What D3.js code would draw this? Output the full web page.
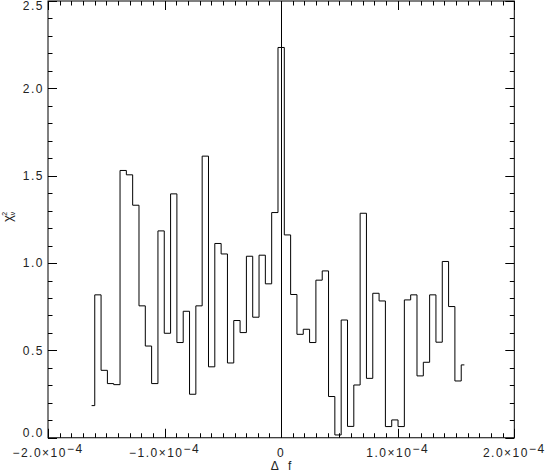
<!DOCTYPE html>
<html>
<head>
<meta charset="utf-8">
<script src="https://cdn.jsdelivr.net/npm/d3@7"></script>
<style>
  html, body { margin: 0; padding: 0; background: #fff; }
  svg { display: block; }
  text { font-family: "Liberation Sans", Arial, sans-serif; fill: #222; }
</style>
</head>
<body>
<svg id="chart" width="547" height="474"></svg>
<script>
// Bin centres, Δf in units of 1e-6
const freqOffsets = [
  -162.6, -157.18, -151.76, -146.34, -140.92, -135.5, -130.08, -124.66, -119.24, -113.82,
  -108.4, -102.98, -97.56, -92.14, -86.72, -81.3, -75.88, -70.46, -65.04, -59.62,
  -54.2, -48.78, -43.36, -37.94, -32.52, -27.1, -21.68, -16.26, -10.84, -5.42,
  0, 5.42, 10.84, 16.26, 21.68, 27.1, 32.52, 37.94, 43.36, 48.78,
  54.2, 59.62, 65.04, 70.46, 75.88, 81.3, 86.72, 92.14, 97.56, 102.98,
  108.4, 113.82, 119.24, 124.66, 130.08, 135.5, 140.92, 146.34, 151.76, 157.18
];
// Reduced chi-square per bin
const chi2Values = [
  0.184, 0.818, 0.386, 0.310, 0.304, 1.530, 1.505, 1.331, 0.755, 0.525,
  0.310, 1.184, 0.598, 1.396, 0.545, 0.724, 0.249, 0.755, 1.612, 0.406,
  1.112, 1.052, 0.428, 0.671, 0.602, 1.039, 0.690, 1.045, 0.881, 1.289,
  2.234, 1.161, 0.820, 0.592, 0.621, 0.545, 0.902, 0.955, 0.236, 0.016,
  0.674, 0.065, 0.302, 1.285, 0.340, 0.827, 0.783, 0.064, 0.102, 0.064,
  0.789, 0.818, 0.354, 0.432, 0.818, 0.547, 1.009, 0.751, 0.325, 0.417
];
const xMajorTicks = [-2e-4, -1e-4, 0, 1e-4, 2e-4];
const xTickMantissa = ["\u22122.0\u00d710", "\u22121.0\u00d710", "0", "1.0\u00d710", "2.0\u00d710"];
const xTickExponent = ["\u22124", "\u22124", "", "\u22124", "\u22124"];
const yMajorTicks = [0, 0.5, 1.0, 1.5, 2.0, 2.5];
const yTickLabels = ["0.0", "0.5", "1.0", "1.5", "2.0", "2.5"];

const svg = d3.select("#chart");
const L = 48, R = 514.3, T = 1, B = 437.75;
const x = d3.scaleLinear().domain([-2e-4, 2e-4]).range([L, R]);
const y = d3.scaleLinear().domain([0, 2.5]).range([B, T]);

const g = svg.append("g").attr("stroke", "#000").attr("stroke-width", 1).attr("fill", "none");

// frame
g.append("rect").attr("x", L).attr("y", T).attr("width", R - L).attr("height", B - T);

// x minor & major ticks (bottom and top)
const xMinor = x.ticks(40);
xMinor.forEach(v => {
  const isMajor = xMajorTicks.some(m => Math.abs(m - v) < 1e-9);
  const len = isMajor ? 9 : 4.5;
  const px = Math.round(x(v)) + 0.5;
  g.append("line").attr("x1", px).attr("x2", px).attr("y1", B).attr("y2", B - len);
  g.append("line").attr("x1", px).attr("x2", px).attr("y1", T).attr("y2", T + len);
});
// y minor & major ticks (left and right)
const yMinor = y.ticks(25);
yMinor.forEach(v => {
  const isMajor = yMajorTicks.some(m => Math.abs(m - v) < 1e-9);
  const len = isMajor ? 9 : 4.5;
  const py = Math.round(y(v)) + 0.5;
  g.append("line").attr("x1", L).attr("x2", L + len).attr("y1", py).attr("y2", py);
  g.append("line").attr("x1", R).attr("x2", R - len).attr("y1", py).attr("y2", py);
});

// vertical zero line
g.append("line").attr("x1", Math.round(x(0)) + 0.5).attr("x2", Math.round(x(0)) + 0.5)
  .attr("y1", T).attr("y2", B);

// histogram (IDL psym=10 style steps)
const pts = freqOffsets.map((f, i) => [f * 1e-6, chi2Values[i]]);
const line = d3.line().x(d => x(d[0])).y(d => y(d[1])).curve(d3.curveStep);
g.append("path").attr("d", line(pts)).attr("stroke-width", 1);

// x tick labels
const tl = svg.append("g").attr("font-size", 12).attr("letter-spacing", 1.5);
xMajorTicks.forEach((v, i) => {
  const t = tl.append("text").attr("x", x(v)).attr("y", 456.5).attr("text-anchor", "middle");
  t.append("tspan").text(xTickMantissa[i]);
  if (xTickExponent[i]) t.append("tspan").attr("dy", -4).text(xTickExponent[i]);
});
// y tick labels
yMajorTicks.forEach((v, i) => {
  let yy = y(v) + 4.3;
  if (i === 0) yy = y(v) - 0.5;
  if (i === yMajorTicks.length - 1) yy = y(v) + 9;
  tl.append("text").attr("x", 44).attr("y", yy).attr("text-anchor", "end").text(yTickLabels[i]);
});

// axis titles
const xt = svg.append("text").attr("x", 281).attr("y", 470).attr("text-anchor", "middle")
  .attr("font-size", 12).attr("xml:space", "preserve");
xt.text("\u0394   f");

const yt = svg.append("text").attr("transform", "translate(12,222) rotate(-90)")
  .attr("text-anchor", "start").attr("font-size", 13);
yt.append("tspan").text("\u03c7");
yt.append("tspan").attr("font-size", 7).attr("dy", 3).attr("dx", 0).text("\u03bd");
yt.append("tspan").attr("font-size", 7).attr("dy", -8).attr("dx", -4).text("2");
</script>
</body>
</html>
